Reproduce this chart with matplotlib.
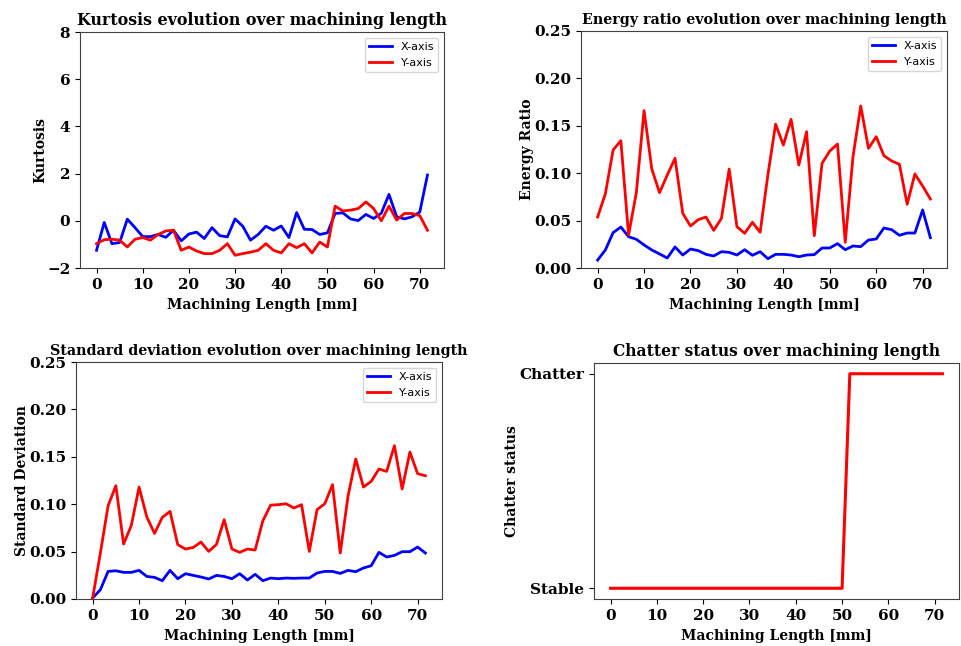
import numpy as np
import matplotlib
matplotlib.use("Agg")
import matplotlib.pyplot as plt

# ---------------- data ----------------
n_points = 44
step_mm = 5 / 3
machining_length = np.arange(n_points) * step_mm

kurtosis_x = [-1.25, -0.07, -0.97, -0.92, 0.07, -0.29, -0.67, -0.67, -0.58, -0.70,
              -0.40, -0.85, -0.56, -0.48, -0.75, -0.29, -0.63, -0.68, 0.08, -0.23,
              -0.82, -0.58, -0.23, -0.40, -0.22, -0.71, 0.35, -0.36, -0.37, -0.58,
              -0.51, 0.31, 0.34, 0.08, 0.01, 0.27, 0.10, 0.32, 1.12, 0.17,
              0.08, 0.17, 0.37, 1.94]
kurtosis_y = [-0.97, -0.80, -0.78, -0.82, -1.11, -0.78, -0.71, -0.82, -0.58, -0.43,
              -0.40, -1.25, -1.11, -1.28, -1.39, -1.39, -1.25, -0.97, -1.46, -1.39,
              -1.33, -1.25, -0.97, -1.25, -1.36, -0.97, -1.14, -0.97, -1.36, -0.90,
              -1.11, 0.62, 0.42, 0.45, 0.52, 0.80, 0.52, 0.00, 0.62, 0.03,
              0.31, 0.31, 0.22, -0.40]

energy_x = [0.0084, 0.019, 0.0373, 0.0432, 0.033, 0.0303, 0.0243, 0.019, 0.0148, 0.0105,
            0.0222, 0.0137, 0.020, 0.0183, 0.0144, 0.0127, 0.0172, 0.0165, 0.0137, 0.0193,
            0.0134, 0.0172, 0.0098, 0.0144, 0.0144, 0.0137, 0.0119, 0.0137, 0.0141, 0.0211,
            0.0211, 0.0257, 0.0193, 0.0232, 0.0225, 0.0295, 0.0306, 0.0422, 0.0404, 0.0345,
            0.0369, 0.0369, 0.0612, 0.032]
energy_y = [0.0538, 0.0784, 0.1245, 0.1343, 0.0348, 0.0795, 0.166, 0.1044, 0.0795, 0.0981,
            0.1157, 0.0577, 0.0443, 0.051, 0.0538, 0.0397, 0.0524, 0.1044, 0.0436, 0.0366,
            0.0482, 0.0377, 0.0981, 0.1517, 0.1297, 0.1568, 0.1086, 0.1438, 0.0341, 0.1104,
            0.1234, 0.1308, 0.0271, 0.1174, 0.1709, 0.1262, 0.1385, 0.1185, 0.1129, 0.1094,
            0.0672, 0.0992, 0.0865, 0.0728]

std_x = [0.001, 0.0098, 0.0291, 0.0298, 0.0281, 0.0281, 0.0302, 0.0238, 0.0228, 0.0193,
         0.0302, 0.0214, 0.0267, 0.0249, 0.0232, 0.0211, 0.0249, 0.0238, 0.0214, 0.0267,
         0.020, 0.026, 0.0193, 0.0221, 0.0214, 0.0221, 0.0218, 0.0221, 0.0221, 0.0274,
         0.0291, 0.0291, 0.027, 0.0302, 0.0288, 0.0327, 0.0351, 0.0492, 0.0443, 0.046,
         0.0499, 0.0499, 0.0548, 0.0485]
std_y = [0.001, 0.0485, 0.0984, 0.1195, 0.058, 0.0776, 0.1181, 0.0865, 0.0692, 0.0861,
         0.0924, 0.0573, 0.0527, 0.0544, 0.0601, 0.0502, 0.0576, 0.0837, 0.0527, 0.0492,
         0.0527, 0.0517, 0.0826, 0.0990, 0.0995, 0.1005, 0.096, 0.0995, 0.0502, 0.0942,
         0.1005, 0.1206, 0.0485, 0.1083, 0.1477, 0.1181, 0.1241, 0.1371, 0.1346, 0.1617,
         0.116, 0.155, 0.1322, 0.13]

chatter_status = [0] * 31 + [1] * 13
status_labels = ["Stable", "Chatter"]

titles = ["Kurtosis evolution over machining length",
          "Energy ratio evolution over machining length",
          "Standard deviation evolution over machining length",
          "Chatter status over machining length"]
title_sizes = [11.4, 10.3, 10.25, 11.2]
ylabels = ["Kurtosis", "Energy Ratio", "Standard Deviation", "Chatter status"]
xlabel = "Machining Length [mm]"
legend_labels = ["X-axis", "Y-axis"]

# ---------------- style ----------------
serif = ["DejaVu Serif"]
tick_fs = 11
label_fs = 10
spine_color = "#404040"

fig = plt.figure(figsize=(9.61, 6.46), dpi=100)
W, H = 961, 646

def add_ax(l, r, t, b):
    return fig.add_axes([l / W, 1 - b / H, (r - l) / W, (b - t) / H])

axes = [add_ax(80, 444, 32, 268), add_ax(581, 947, 31, 268),
        add_ax(76, 442, 362, 599), add_ax(594, 959, 363, 599)]

def style(ax, title, tsize, ylabel):
    ax.set_title(title, fontfamily=serif, fontweight="bold", fontsize=tsize, pad=5)
    ax.set_xlabel(xlabel, fontfamily=serif, fontweight="bold", fontsize=label_fs, labelpad=4.5)
    ax.set_ylabel(ylabel, fontfamily=serif, fontweight="bold", fontsize=label_fs, labelpad=0)
    for lab in ax.get_xticklabels() + ax.get_yticklabels():
        lab.set_fontfamily(serif)
        lab.set_fontweight("bold")
        lab.set_fontsize(tick_fs)
    for s in ax.spines.values():
        s.set_color(spine_color)
    ax.tick_params(colors="black", length=3.5)
    ax.set_xticks([0, 10, 20, 30, 40, 50, 60, 70])

pairs = [(kurtosis_x, kurtosis_y, (-2, 8)),
         (energy_x, energy_y, (0, 0.25)),
         (std_x, std_y, (0, 0.25))]
for k, (ax, (sx, sy, ylim)) in enumerate(zip(axes[:3], pairs)):
    ax.plot(machining_length, sx, color="blue", lw=2, label=legend_labels[0])
    ax.plot(machining_length, sy, color="red", lw=2, label=legend_labels[1])
    ax.set_ylim(*ylim)
    if ylim[1] < 1:
        ax.set_yticks([0, 0.05, 0.10, 0.15, 0.20, 0.25])
        ax.set_yticklabels(["0.00", "0.05", "0.10", "0.15", "0.20", "0.25"])
    else:
        ax.set_yticks([-2, 0, 2, 4, 6, 8])
        ax.set_yticklabels(["\u22122", "0", "2", "4", "6", "8"])
    style(ax, titles[k], title_sizes[k], ylabels[k])
    ax.legend(loc="upper right", prop={"family": "DejaVu Sans", "size": 8})

ax = axes[3]
ax.plot(machining_length, chatter_status, color="red", lw=2.2)
ax.set_yticks([0, 1])
ax.set_yticklabels(status_labels)
style(ax, titles[3], title_sizes[3], ylabels[3])

fig.savefig("out.png", dpi=100)
